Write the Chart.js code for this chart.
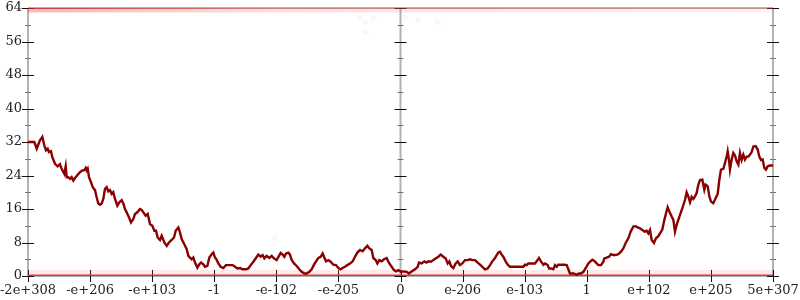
<!DOCTYPE html>
<html>
<head>
<meta charset="utf-8">
<script src="https://cdn.jsdelivr.net/npm/chart.js@4/dist/chart.umd.min.js"></script>
<style>
  html, body { margin: 0; padding: 0; background: #fff; }
  #wrap { width: 800px; height: 300px; }
</style>
</head>
<body>
<div id="wrap"><canvas id="chart" width="800" height="300"></canvas></div>
<script>
// tick labels along the bottom, one per integer position 0..12
const xTickLabels = ['-2e+308', '-e+206', '-e+103', '-1', '-e-102', '-e-205', '0',
                     'e-206', 'e-103', '1', 'e+102', 'e+205', '5e+307'];
const yMin = 0, yMax = 64, yStep = 8;

// the walk as [x position in tick units, value]
const leftTail = [
  [0,32],[0.102,32],[0.140,30.4],[0.166,31.4],[0.193,32.4],[0.231,33.2],[0.263,31.2],[0.290,30],[0.317,30.4],[0.338,29.6],
  [0.370,29.8],[0.392,28.4],[0.435,26.8],[0.478,26.2],[0.515,26.7],[0.542,25.6],[0.585,24.4],[0.607,26.2],[0.623,23.6],[0.650,23.6],
  [0.677,23.2],[0.703,23.6],[0.730,22.8],[0.757,23.4],[0.800,24.2],[0.838,24.8],[0.875,25.2],[0.907,25.3],[0.929,25.8],[0.945,25.2],
  [0.961,25.6],[0.983,23.6],[1.015,22.4],[1.042,21.2],[1.079,20.5],[1.106,18.8],[1.133,17.3],[1.160,17],[1.187,17.3],[1.213,18.4],
  [1.240,20.8],[1.267,21.2],[1.294,20.2],[1.321,20.5],[1.348,19.6],[1.374,20],[1.401,18.4],[1.439,16.8],[1.471,17.6],[1.509,18.1],
  [1.536,17.3],[1.562,16],[1.589,15.2],[1.627,14],[1.659,12.8],[1.697,13.6],[1.723,14.8],[1.761,15.2],[1.804,16],[1.831,15.8],
  [1.858,15.2],[1.895,14.4],[1.928,14.8],[1.965,12.4],[2.003,12],[2.035,10.8],[2.062,10.8],[2.089,9.2],[2.126,8.6],[2.153,9.6],
  [2.196,8],[2.234,7.2],[2.271,8],[2.314,8.6],[2.352,9.2],[2.379,10.8],[2.421,11.6],[2.448,10.4],[2.475,8.8],[2.518,7.6],
  [2.556,6.4],[2.583,4.8],[2.609,4.4],[2.636,4],[2.663,4.4],[2.690,3.2],[2.728,2],[2.760,2.8],[2.787,3.2],[2.824,2.8],
  [2.851,2.2],[2.889,2.4],[2.921,4.4],[2.958,5.2],[2.985,5.6],[3.012,4.4]
];
const leftInner = [
  [3.028,4.2],[3.066,3],[3.103,2.2],[3.146,1.9],[3.189,2.6],[3.243,2.6],[3.297,2.6],[3.334,2.2],[3.372,1.8],[3.415,1.9],
  [3.458,1.6],[3.511,1.6],[3.549,1.8],[3.587,2.6],[3.630,3.4],[3.672,4.3],[3.710,5.1],[3.748,4.6],[3.780,5],[3.807,4.2],
  [3.844,4.8],[3.887,4.3],[3.925,4.8],[3.962,4.2],[4.005,3.8],[4.043,4.8],[4.070,5.5],[4.102,5.1],[4.129,4.6],[4.156,5.4],
  [4.193,5.6],[4.220,5.1],[4.247,3.8],[4.285,3],[4.328,2.4],[4.370,1.6],[4.408,1],[4.451,0.6],[4.489,0.6],[4.532,1],
  [4.569,1.6],[4.607,2.7],[4.639,3.5],[4.677,4.3],[4.714,4.6],[4.746,5.4],[4.768,4.6],[4.800,3.5],[4.838,3.8],[4.875,3.4],
  [4.918,2.7],[4.961,2.6],[4.999,1.9],[5.036,1.6],[5.068,1.9],[5.106,2.2],[5.144,2.6],[5.187,3],[5.230,3.5],[5.267,4.6],
  [5.305,5.6],[5.348,6.2],[5.391,5.9],[5.428,6.6],[5.466,7.2],[5.498,6.6],[5.536,6.2],[5.562,4.3],[5.600,3.8],[5.627,3],
  [5.659,3.8],[5.697,3.5],[5.734,4],[5.777,4.3],[5.820,3],[5.858,2.2],[5.895,1.4],[5.928,1.1],[5.965,1.4],[6.003,1],
  [6.046,1.1]
];
const rightInner = [
  [6.099,1],[6.137,0.6],[6.180,1.1],[6.234,1.6],[6.277,2.2],[6.298,3.2],[6.341,3],[6.384,3.5],[6.421,3.2],[6.448,3.5],
  [6.491,3.4],[6.529,3.8],[6.566,4.2],[6.609,4.6],[6.647,5.1],[6.690,4.6],[6.728,4.2],[6.760,3],[6.787,3.5],[6.813,2.4],
  [6.851,1.9],[6.889,3],[6.921,3.5],[6.958,2.6],[6.996,3],[7.039,3.8],[7.082,3.8],[7.119,4],[7.157,3.8],[7.200,3.8],
  [7.243,3.2],[7.281,2.7],[7.318,2.2],[7.361,1.6],[7.404,1.8],[7.442,2.6],[7.479,3.5],[7.522,4.3],[7.549,5],[7.576,5.6],
  [7.603,5.8],[7.630,5.1],[7.656,4.6],[7.694,3.5],[7.726,2.7],[7.764,2.2],[7.817,2.2],[7.871,2.2],[7.925,2.2],[7.979,2.2],
  [8.005,2.7],[8.032,2.6],[8.059,3],[8.113,3],[8.166,3],[8.209,3.8],[8.231,4.3],[8.263,3.5],[8.301,2.7],[8.328,3],
  [8.370,2.6],[8.392,1.8],[8.424,1.8],[8.462,1.6],[8.489,2.6],[8.515,2.2],[8.542,2.7],[8.585,2.7],[8.639,2.7],[8.677,2.6],
  [8.703,1.6],[8.730,0.6],[8.784,0.6],[8.838,0.3],[8.875,0.6],[8.907,0.6],[8.945,1],[8.982,1.9],[9.026,3]
];
const rightTail = [
  [9.052,3.4],[9.090,3.9],[9.122,3.6],[9.160,3],[9.187,2.6],[9.230,2.6],[9.267,3.4],[9.283,4.2],[9.321,4.4],[9.358,4.6],
  [9.390,5.2],[9.428,5],[9.466,5],[9.509,5.2],[9.552,5.8],[9.589,6.6],[9.627,7.9],[9.670,9],[9.707,10.6],[9.750,11.8],
  [9.788,11.9],[9.820,11.6],[9.858,11.4],[9.895,11],[9.928,10.6],[9.965,10.8],[9.992,10.2],[10.019,11],[10.046,8.6],[10.083,7.9],
  [10.115,9],[10.153,9.5],[10.180,10.2],[10.217,11.1],[10.250,13.4],[10.277,15],[10.303,16.4],[10.330,15.4],[10.368,14.2],[10.395,13.4],
  [10.421,10.6],[10.448,12.2],[10.475,13.4],[10.502,14.6],[10.540,16.2],[10.583,18.2],[10.609,20],[10.636,19],[10.663,17.6],[10.690,18.9],
  [10.717,18.4],[10.744,19],[10.770,19.8],[10.797,21.8],[10.824,22.9],[10.862,23],[10.894,20.6],[10.915,21.8],[10.948,21.4],[10.975,19],
  [11.001,17.8],[11.039,17.4],[11.077,18.6],[11.109,19.6],[11.136,23],[11.162,25.4],[11.200,25.6],[11.227,27],[11.254,28.5],[11.270,29.8],
  [11.291,27.8],[11.307,25.4],[11.334,27.8],[11.361,29.4],[11.388,28.8],[11.415,27.4],[11.442,26.6],[11.468,29.4],[11.495,27.7],[11.522,29],
  [11.549,27.8],[11.576,28.5],[11.603,28.5],[11.630,29],[11.656,29.6],[11.683,30.9],[11.721,31],[11.753,30.2],[11.780,28.5],[11.807,27.7],
  [11.834,27.8],[11.860,25.8],[11.887,25.4],[11.914,26.2],[11.952,26.4],[12,26.4]
];

// faint stray dots seen near the top and in the middle
const strayDots = [[5.35,61.8],[5.43,60.6],[5.56,61.6],[5.43,58.2],[6.07,61.6],[6.28,61.1],[6.60,60.6],[3.98,8.9]];

const walk = [...leftTail, ...leftInner, ...rightInner, ...rightTail].map(([x, y]) => ({x, y}));
const floorLine = [{x: 0, y: 0}, {x: 12, y: 0}];
const floorHaze = [{x: 0, y: 0.9}, {x: 12, y: 0.9}];
const ceilLine = [{x: 0, y: 64}, {x: 12, y: 64}];
const ceilHaze = [{x: 0, y: 63.4}, {x: 12, y: 63.4}];

const serif = 'DejaVu Serif';

// draws the gray frame, the centre axis and the tick marks that cross them
const frame = {
    id: 'frame',
    beforeDatasetsDraw(chart) {
        const {ctx, chartArea: a, scales: {x, y}} = chart;
        const axes = [x.getPixelForValue(0), x.getPixelForValue(6), x.getPixelForValue(12)];
        ctx.save();
        ctx.strokeStyle = '#b2b2b2';
        ctx.lineWidth = 2;
        ctx.beginPath();
        ctx.moveTo(a.left, a.top); ctx.lineTo(a.right, a.top);
        ctx.moveTo(a.left, a.bottom); ctx.lineTo(a.right, a.bottom);
        axes.forEach(px => { ctx.moveTo(px, a.top); ctx.lineTo(px, a.bottom); });
        ctx.stroke();

        ctx.lineWidth = 1;
        for (let v = yMin; v <= yMax; v += yStep / 2) {
            const py = Math.round(y.getPixelForValue(v)) + 0.5;
            const major = v % yStep === 0;
            ctx.strokeStyle = major ? '#111' : '#777';
            const len = major ? 6 : 3;
            ctx.beginPath();
            axes.forEach(px => { ctx.moveTo(px - len, py); ctx.lineTo(px + len, py); });
            ctx.stroke();
        }
        ctx.strokeStyle = '#111';
        ctx.beginPath();
        for (let i = 0; i < xTickLabels.length; i++) {
            const px = Math.round(x.getPixelForValue(i)) + 0.5;
            ctx.moveTo(px, a.bottom - 6); ctx.lineTo(px, a.bottom + 6);
        }
        ctx.stroke();
        ctx.restore();
    }
};

function ceilGradient(context, strong, weak) {
    const a = context.chart.chartArea;
    if (!a) return 'rgba(230,60,60,' + weak + ')';
    const g = context.chart.ctx.createLinearGradient(a.left, 0, a.right, 0);
    g.addColorStop(0, 'rgba(215,30,30,' + strong + ')');
    g.addColorStop(0.35, 'rgba(235,70,70,' + (strong * 0.55) + ')');
    g.addColorStop(1, 'rgba(235,80,80,' + weak + ')');
    return g;
}

new Chart(document.getElementById('chart'), {
    type: 'line',
    data: {
        datasets: [
            {
                data: walk,
                borderColor: '#8b0000',
                borderWidth: 2.4,
                pointRadius: 0,
                tension: 0,
                order: 0
            },
            {
                data: floorLine,
                borderColor: 'rgba(226,40,40,0.92)',
                borderWidth: 3,
                pointRadius: 0,
                order: 1
            },
            {
                data: floorHaze,
                borderColor: 'rgba(240,90,90,0.13)',
                borderWidth: 5,
                pointRadius: 0,
                order: 2
            },
            {
                data: ceilLine,
                borderColor: c => ceilGradient(c, 0.75, 0.3),
                borderWidth: 2,
                pointRadius: 0,
                order: 3
            },
            {
                data: ceilHaze,
                borderColor: c => ceilGradient(c, 0.3, 0.08),
                borderWidth: 4,
                pointRadius: 0,
                order: 4
            },
            {
                type: 'scatter',
                data: strayDots.map(([x, y]) => ({x, y})),
                backgroundColor: 'rgba(240,100,100,0.06)',
                borderWidth: 0,
                pointRadius: 3,
                order: 5
            }
        ]
    },
    options: {
        responsive: false,
        animation: false,
        devicePixelRatio: 1,
        layout: { padding: { top: 8, right: 27, bottom: 0, left: 0 } },
        plugins: { legend: { display: false }, tooltip: { enabled: false } },
        scales: {
            x: {
                type: 'linear',
                min: 0,
                max: xTickLabels.length - 1,
                grid: { display: false, drawTicks: false },
                border: { display: false },
                afterFit(scale) {
                    scale.height = 24;
                    scale.paddingLeft = 0;
                    scale.paddingRight = 0;
                },
                ticks: {
                    stepSize: 1,
                    autoSkip: false,
                    maxRotation: 0,
                    padding: 7,
                    color: '#222',
                    font: { family: serif, size: 13 },
                    callback: v => xTickLabels[v]
                }
            },
            y: {
                min: yMin,
                max: yMax,
                grid: { display: false, drawTicks: false },
                border: { display: false },
                afterFit(scale) {
                    scale.width = 28;
                    scale.paddingTop = 0;
                    scale.paddingBottom = 0;
                },
                ticks: {
                    stepSize: yStep,
                    padding: 6,
                    color: '#222',
                    font: { family: serif, size: 13 }
                }
            }
        }
    },
    plugins: [frame]
});
</script>
</body>
</html>
